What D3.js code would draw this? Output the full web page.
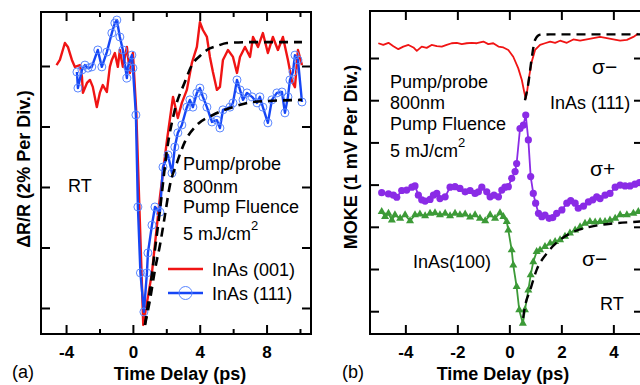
<!DOCTYPE html>
<html>
<head>
<meta charset="utf-8">
<script src="https://cdn.jsdelivr.net/npm/d3@7"></script>
<style>
  body { margin: 0; background: #fff; }
  svg text { font-family: "Liberation Sans", Arial, Helvetica, sans-serif; }
</style>
</head>
<body>
<svg id="fig" width="640" height="385"></svg>
<script>
// ---- panel (a): reflectivity, time delay (ps) vs dR/R (%)
const xTicksA = [-4, 0, 4, 8];
const xMinorA = [-2, 2, 6, 10];
const yTicksA = [0, -2, -4, -6, -8];

const redA = [[-4.57,0.03],[-4.37,0.2],[-4.07,0.76],[-3.89,0.63],[-3.65,0.2],[-3.47,-0.03],[-3.17,0.03],[-3.05,-0.36],
  [-2.99,-0.89],[-2.75,-0.56],[-2.57,-0.46],[-2.4,-0.69],[-2.16,-1.36],[-1.98,-0.89],[-1.8,-0.63],[-1.56,-0.86],
  [-1.38,-0.03],[-1.26,0.2],[-1.08,0.43],[-0.9,-0.03],[-0.78,0.53],[-0.6,-0.03],[-0.36,0.63],[-0.18,-0.23],[0.0,0.43],
  [0.2,-1.5],[0.62,-8.56],[1.14,-6.84],[1.62,-4.33],[2.04,-2.45],[2.4,-1.02],[2.69,-1.72],[2.93,-1.22],[3.23,-0.79],
  [3.53,0.1],[3.83,0.63],[4.01,1.45],[4.19,1.19],[4.43,0.96],[4.61,0.3],[4.79,-0.2],[5.03,-0.79],[5.21,-0.69],
  [5.39,0.2],[5.69,0.53],[5.99,0.3],[6.23,-0.23],[6.41,0.3],[6.71,0.63],[7.01,0.3],[7.19,0.96],[7.49,0.63],
  [7.78,1.09],[8.08,0.43],[8.38,0.96],[8.68,0.53],[8.98,0.96],[9.28,0.2],[9.52,-0.5],[9.7,-0.7],[9.88,0.53],[10.12,0.03]];

const blueA = [[-3.35,-0.2],[-3.29,-0.73],[-3.05,-0.13],[-2.87,0.03],[-2.69,-0.07],[-2.46,-0.03],[-2.1,0.53],
  [-1.86,-0.03],[-1.56,0.46],[-1.26,1.09],[-1.08,1.42],[-0.96,1.52],[-0.78,0.96],[-0.6,0.53],[-0.36,-0.4],
  [-0.3,-0.03],[-0.06,0.36],[0.0,-0.07],[0.18,-1.62],[0.3,-4.66],[0.45,-6.84],[0.66,-8.13],[0.84,-6.84],
  [0.9,-6.18],[1.14,-5.26],[1.32,-4.66],[1.62,-4.83],[1.8,-3.34],[2.1,-2.94],[2.34,-3.54],[2.51,-2.68],
  [2.69,-2.21],[2.93,-1.95],[3.23,-1.36],[3.41,-1.12],[3.59,-1.36],[3.83,-0.89],[4.01,-0.73],[4.19,-1.02],
  [4.43,-1.36],[4.73,-1.85],[5.03,-1.79],[5.21,-2.05],[5.39,-1.45],[5.81,-1.36],[5.99,-1.22],[6.23,-0.46],
  [6.41,-0.79],[6.59,-1.12],[6.83,-0.89],[7.13,-1.02],[7.43,-1.22],[7.6,-1.02],[7.78,-1.36],[8.08,-1.88],
  [8.32,-1.12],[8.62,-0.89],[8.92,-0.86],[9.1,-1.55],[9.28,-1.02],[9.4,-0.46],[9.58,-0.2],[9.7,0.36],
  [9.88,0.2],[10.12,-1.19]];

const fitA1 = [[0.72,-8.56],[1.02,-7.4],[1.32,-6.08],[1.62,-4.76],[2.04,-2.78],[2.51,-1.45],[3.11,-0.53],
  [3.53,0.03],[4.01,0.33],[4.43,0.53],[5.03,0.66],[5.63,0.76],[7.01,0.79],[10.12,0.79]];
const fitA2 = [[0.72,-8.56],[1.02,-7.74],[1.32,-6.74],[1.62,-5.92],[1.92,-4.93],[2.22,-3.93],[2.63,-3.21],
  [3.11,-2.51],[3.83,-1.95],[4.79,-1.62],[5.99,-1.36],[7.19,-1.19],[10.12,-1.12]];

// ---- panel (b): MOKE signal (mV)
const xTicksB = [-4, -2, 0, 2, 4];
const yTicksB = [0, -1, -2, -3, -4, -5, -6];

const redB = [[-5.04,0.35],[-4.85,0.31],[-4.65,0.36],[-4.46,0.28],[-4.27,0.21],[-4.08,0.27],[-3.88,0.31],
  [-3.69,0.25],[-3.56,0.17],[-3.37,0.27],[-3.18,0.24],[-2.99,0.31],[-2.79,0.28],[-2.6,0.27],[-2.41,0.31],
  [-2.22,0.35],[-2.02,0.36],[-1.83,0.33],[-1.64,0.35],[-1.45,0.36],[-1.25,0.35],[-1.0,0.39],[-0.81,0.33],
  [-0.62,0.35],[-0.42,0.27],[-0.23,0.25],[-0.04,0.19],[0.15,0.03],[0.34,-0.24],[0.48,-0.52],[0.57,-0.8],
  [0.63,-0.96],[0.69,-0.76],[0.76,-0.44],[0.86,-0.09],[0.99,0.19],[1.18,0.31],[1.37,0.35],[1.57,0.39],
  [1.76,0.36],[1.95,0.41],[2.21,0.36],[2.46,0.44],[2.72,0.41],[2.98,0.44],[3.23,0.47],[3.49,0.5],[3.75,0.47],
  [4.0,0.44],[4.26,0.41],[4.52,0.43],[4.77,0.5],[4.96,0.58]];
const fitRedB = [[0.6,-1.0],[0.73,-0.6],[0.86,0.0],[0.99,0.43],[1.18,0.55],[1.57,0.56],[5.14,0.56]];

const purpleB = [[-4.91,-3.19],[-4.65,-3.22],[-4.46,-3.25],[-4.33,-3.3],[-4.14,-3.14],[-3.95,-3.13],[-3.75,-3.06],
  [-3.63,-3.03],[-3.5,-3.25],[-3.37,-3.36],[-3.24,-3.39],[-3.05,-3.35],[-2.92,-3.25],[-2.79,-3.21],[-2.67,-3.33],
  [-2.47,-3.29],[-2.28,-3.06],[-2.09,-3.05],[-1.9,-3.09],[-1.7,-3.17],[-1.51,-3.14],[-1.32,-3.21],[-1.19,-3.17],
  [-1.06,-3.06],[-0.87,-3.17],[-0.74,-3.29],[-0.59,-3.25],[-0.42,-3.29],[-0.29,-3.13],[-0.17,-3.06],[-0.04,-3.05],
  [0.09,-2.85],[0.22,-2.69],[0.28,-2.5],[0.41,-1.67],[0.54,-1.59],[0.63,-1.35],[0.73,-1.94],[0.82,-2.81],
  [0.92,-3.21],[1.01,-3.44],[1.12,-3.68],[1.25,-3.76],[1.37,-3.72],[1.53,-3.8],[1.67,-3.78],[1.82,-3.68],
  [2.02,-3.6],[2.21,-3.44],[2.36,-3.38],[2.53,-3.44],[2.65,-3.56],[2.85,-3.51],[3.04,-3.41],[3.21,-3.36],
  [3.36,-3.29],[3.49,-3.33],[3.68,-3.25],[3.87,-3.21],[4.07,-3.06],[4.26,-3.01],[4.45,-3.03],[4.64,-3.03],
  [4.83,-2.99],[5.0,-2.95]];

const greenB = [[-4.91,-3.64],[-4.78,-3.76],[-4.65,-3.68],[-4.52,-3.84],[-4.4,-3.72],[-4.2,-3.8],[-4.01,-3.72],
  [-3.82,-3.86],[-3.63,-3.72],[-3.44,-3.7],[-3.24,-3.74],[-3.05,-3.68],[-2.86,-3.67],[-2.67,-3.72],[-2.47,-3.68],
  [-2.28,-3.74],[-2.09,-3.68],[-1.9,-3.72],[-1.7,-3.7],[-1.51,-3.77],[-1.32,-3.72],[-1.13,-3.8],[-0.93,-3.86],
  [-0.74,-3.72],[-0.55,-3.8],[-0.36,-3.67],[-0.23,-3.76],[-0.1,-3.88],[-0.04,-4.08],[0.09,-4.55],[0.15,-4.91],
  [0.28,-5.42],[0.38,-5.97],[0.52,-6.29],[0.6,-5.97],[0.73,-5.5],[0.82,-5.14],[0.92,-4.83],[1.05,-4.59],
  [1.18,-4.55],[1.37,-4.47],[1.57,-4.39],[1.76,-4.35],[1.95,-4.31],[2.14,-4.23],[2.33,-4.15],[2.53,-4.08],
  [2.72,-4.0],[2.91,-3.92],[3.1,-3.88],[3.3,-3.89],[3.49,-3.88],[3.68,-3.88],[3.87,-3.84],[4.07,-3.8],
  [4.26,-3.72],[4.52,-3.72],[4.77,-3.68],[4.96,-3.64]];
const fitGreenB = [[0.53,-6.16],[0.6,-5.89],[0.8,-5.5],[1.05,-5.02],[1.44,-4.63],[1.95,-4.31],[2.46,-4.12],
  [3.1,-4.0],[4.0,-3.92],[4.9,-3.88],[5.14,-3.87]];

const svg = d3.select('#fig');

const xA = d3.scaleLinear().domain([-5.5, 10.66]).range([41, 311]);
const yA = d3.scaleLinear().domain([1.785, -8.86]).range([12, 334]);
const xB = d3.scaleLinear().domain([-5.36, 5.14]).range([370, 643]);
const yB = d3.scaleLinear().domain([1.114, -6.54]).range([11, 334]);

function styleAxis(g) {
    g.select('.domain').remove();
    g.selectAll('.tick line').attr('stroke', '#000').attr('stroke-width', 2);
    g.selectAll('.tick text').attr('fill', '#000').attr('font-size', 17).attr('font-weight', 'bold')
        .attr('font-family', '"Liberation Sans", Arial, sans-serif');
}

function drawFrame(x, y, xt, xm, yt) {
    let [x0, x1] = x.range(), [y0, y1] = y.range();
    let g = svg.append('g');
    let fmt = d => '' + d;

    g.append('g').attr('transform', 'translate(0,' + y1 + ')')
        .call(d3.axisBottom(x).tickValues(xt).tickSize(-9).tickPadding(12).tickFormat(fmt)).call(styleAxis);
    g.append('g').attr('transform', 'translate(0,' + y0 + ')')
        .call(d3.axisTop(x).tickValues(xt).tickSize(-9).tickFormat('')).call(styleAxis);
    if (xm) {
        g.append('g').attr('transform', 'translate(0,' + y1 + ')')
            .call(d3.axisBottom(x).tickValues(xm).tickSize(-5).tickFormat('')).call(styleAxis);
        g.append('g').attr('transform', 'translate(0,' + y0 + ')')
            .call(d3.axisTop(x).tickValues(xm).tickSize(-5).tickFormat('')).call(styleAxis);
    }
    g.append('g').attr('transform', 'translate(' + x0 + ',0)')
        .call(d3.axisLeft(y).tickValues(yt).tickSize(-9).tickFormat('')).call(styleAxis);
    g.append('g').attr('transform', 'translate(' + x1 + ',0)')
        .call(d3.axisRight(y).tickValues(yt).tickSize(-9).tickFormat('')).call(styleAxis);

    g.append('rect')
        .attr('x', x0).attr('y', y0)
        .attr('width', x1 - x0).attr('height', y1 - y0)
        .attr('fill', 'none').attr('stroke', '#000').attr('stroke-width', 2);
}

function plotLine(x, y, data, color, width, dash, curve) {
    let line = d3.line().x(d => x(d[0])).y(d => y(d[1]));
    if (curve) line.curve(curve);
    svg.append('path')
        .datum(data)
        .attr('d', line)
        .attr('fill', 'none')
        .attr('stroke', color)
        .attr('stroke-width', width)
        .attr('stroke-linejoin', 'round')
        .attr('stroke-dasharray', dash || null);
}

function label(x, y, txt, opts) {
    opts = opts || {};
    let t = svg.append('text')
        .attr('x', x).attr('y', y)
        .attr('font-size', opts.size || 18)
        .attr('font-weight', opts.bold ? 'bold' : 'normal')
        .attr('text-anchor', opts.anchor || 'start')
        .attr('fill', '#000')
        .text(txt);
    if (opts.rotate) {
        t.attr('x', 0).attr('y', 0).attr('transform', 'translate(' + x + ',' + y + ') rotate(-90)');
    }
    return t;
}

// ---------- panel (a)
drawFrame(xA, yA, xTicksA, xMinorA, yTicksA);

plotLine(xA, yA, redA, '#f01414', 2.4);
plotLine(xA, yA, blueA, '#1646f5', 2.4);
svg.append('g').selectAll('circle')
    .data(blueA)
    .enter()
    .append('circle')
    .attr('cx', d => xA(d[0]))
    .attr('cy', d => yA(d[1]))
    .attr('r', 4)
    .attr('fill', 'none')
    .attr('stroke', '#5a86ff')
    .attr('stroke-width', 1);
plotLine(xA, yA, fitA1, '#000', 2.6, '9,6', d3.curveMonotoneX);
plotLine(xA, yA, fitA2, '#000', 2.6, '9,6', d3.curveMonotoneX);

label(68, 192, 'RT');
label(183, 170, 'Pump/probe');
label(183, 193, '800nm');
label(183, 213, 'Pump Fluence');
label(183, 240, '5 mJ/cm').append('tspan').attr('dy', -10).attr('font-size', 13).text('2');

// legend
svg.append('line').attr('x1', 168).attr('x2', 203).attr('y1', 269).attr('y2', 269)
    .attr('stroke', '#f01414').attr('stroke-width', 2.4);
svg.append('line').attr('x1', 168).attr('x2', 203).attr('y1', 293).attr('y2', 293)
    .attr('stroke', '#1646f5').attr('stroke-width', 2.4);
svg.append('circle').attr('cx', 185.5).attr('cy', 293).attr('r', 6.5)
    .attr('fill', 'none').attr('stroke', '#5a86ff').attr('stroke-width', 1);
label(212, 276, 'InAs (001)');
label(212, 300, 'InAs (111)');

label(180, 380, 'Time Delay (ps)', {bold: true, anchor: 'middle'});
label(12, 378, '(a)');
label(30, 169, '\u0394R/R (2% Per Div.)', {bold: true, anchor: 'middle', rotate: true});

// ---------- panel (b)
drawFrame(xB, yB, xTicksB, null, yTicksB);

plotLine(xB, yB, redB, '#f01414', 1.8);
plotLine(xB, yB, fitRedB, '#000', 2.4, '9,6', d3.curveMonotoneX);

plotLine(xB, yB, purpleB, '#8a2be6', 1.8);
svg.append('g').selectAll('circle')
    .data(purpleB)
    .enter()
    .append('circle')
    .attr('cx', d => xB(d[0]))
    .attr('cy', d => yB(d[1]))
    .attr('r', 3.6)
    .attr('fill', '#8a2be6');

plotLine(xB, yB, greenB, '#3c9a37', 1.8);
svg.append('g').selectAll('path')
    .data(greenB)
    .enter()
    .append('path')
    .attr('d', d3.symbol(d3.symbolTriangle).size(28))
    .attr('transform', d => 'translate(' + xB(d[0]) + ',' + yB(d[1]) + ')')
    .attr('fill', '#3c9a37');
plotLine(xB, yB, fitGreenB, '#000', 2.4, '9,6', d3.curveMonotoneX);

label(390, 88, 'Pump/probe');
label(390, 109, '800nm');
label(390, 130, 'Pump Fluence');
label(390, 157, '5 mJ/cm').append('tspan').attr('dy', -10).attr('font-size', 13).text('2');
label(592, 74, '\u03c3\u2212', {size: 21});
label(550, 109, 'InAs (111)');
label(590, 176, '\u03c3+', {size: 21});
label(413, 268, 'InAs(100)');
label(582, 266, '\u03c3\u2212', {size: 21});
label(600, 310, 'RT');

label(503, 380, 'Time Delay (ps)', {bold: true, anchor: 'middle'});
label(342, 378, '(b)');
label(357, 157, 'MOKE (1 mV Per Div.)', {bold: true, anchor: 'middle', rotate: true});
</script>
</body>
</html>
